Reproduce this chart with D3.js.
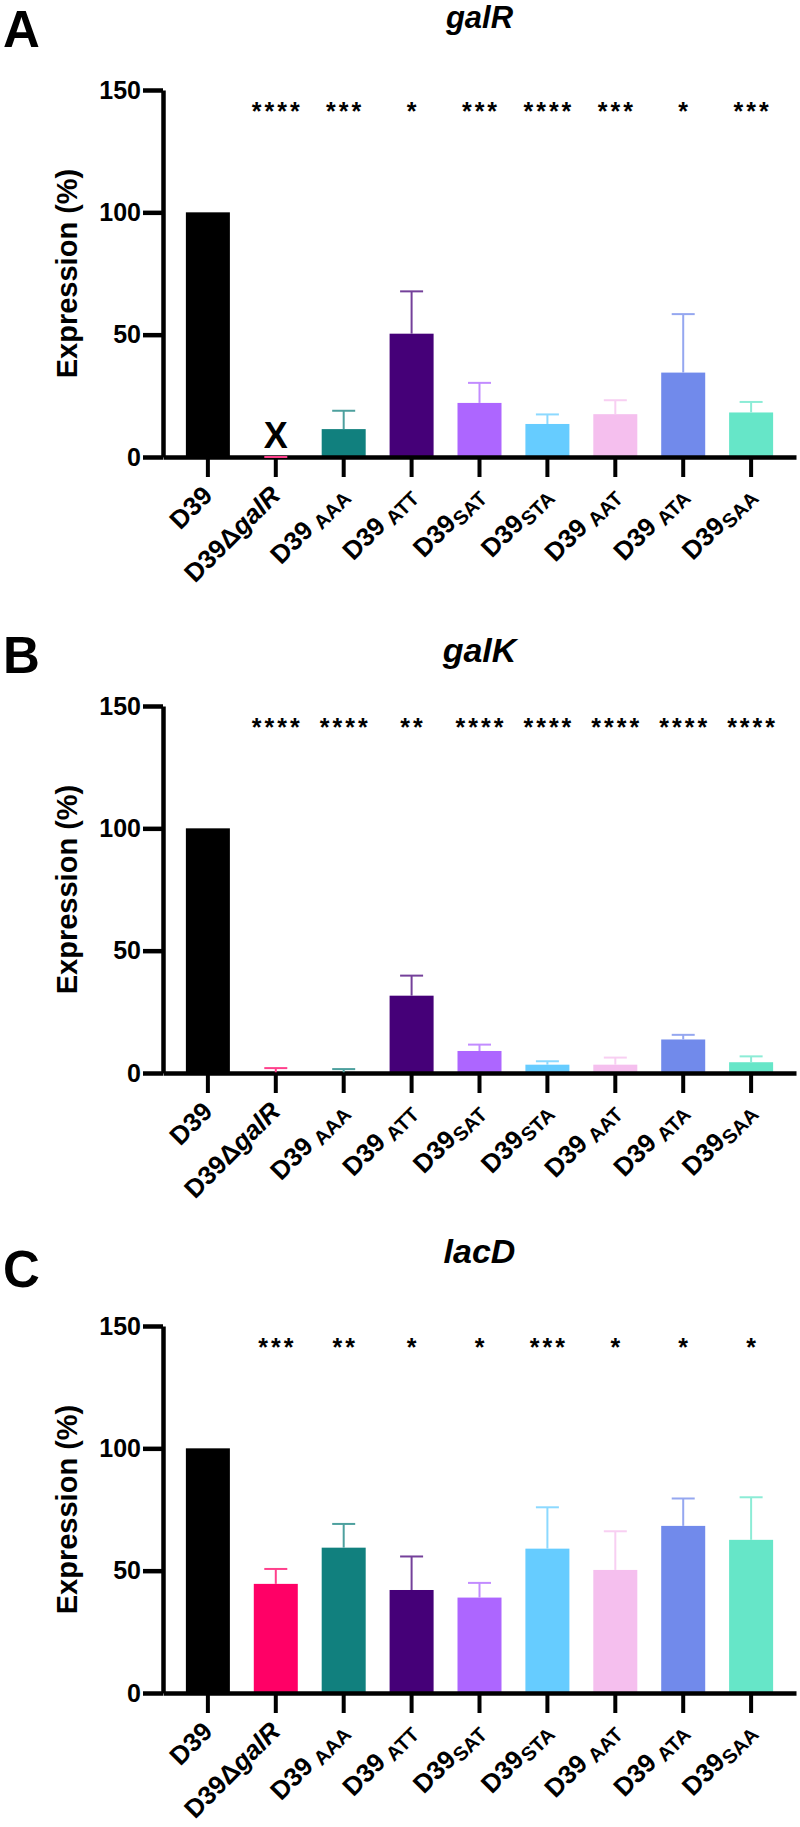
<!DOCTYPE html>
<html><head><meta charset="utf-8">
<script src="https://cdn.jsdelivr.net/npm/d3@7"></script>
<style>body{margin:0;background:#fff} svg{display:block}</style>
</head><body><svg id="c" width="800" height="1827"></svg>
<script>
// ---- data ----
const categories = ["D39","D39ΔgalR","D39AAA","D39ATT","D39SAT","D39STA","D39AAT","D39ATA","D39SAA"];
const labelBase   = ["D39","D39Δ","D39","D39","D39","D39","D39","D39","D39"];
const labelItalic = ["","galR","","","","","","",""];
const labelSub    = ["","","AAA","ATT","SAT","STA","AAT","ATA","SAA"];
const subSpace    = [false,false,true,true,false,false,true,true,false];
const colors = ["#000000","#ff0066","#11807e","#450078","#ad66ff","#66ccff","#f5bfee","#718aeb","#66e6c8"];
const yTicks = [0,50,100,150];

const galR_mean = [100, 0, 11.4, 50.4, 22.1, 13.5, 17.5, 34.5, 18.2];
const galR_err  = [0, 0, 7.5, 17.3, 8.2, 3.9, 5.7, 23.9, 4.3];
const galR_sig  = ["", "****", "***", "*", "***", "****", "***", "*", "***"];
const galR_note = ["", "X", "", "", "", "", "", "", ""];

const galK_mean = [100, 0.3, 0.3, 31.6, 9.0, 3.4, 3.4, 13.7, 4.4];
const galK_err  = [0, 1.7, 1.3, 8.2, 2.6, 1.4, 2.9, 1.9, 2.4];
const galK_sig  = ["", "****", "****", "**", "****", "****", "****", "****", "****"];
const galK_note = ["", "", "", "", "", "", "", "", ""];

const lacD_mean = [100, 44.6, 59.4, 42.1, 39.0, 59.0, 50.3, 68.3, 62.6];
const lacD_err  = [0, 6.1, 9.7, 13.7, 6.0, 16.9, 15.8, 11.2, 17.4];
const lacD_sig  = ["", "***", "**", "*", "*", "***", "*", "*", "*"];
const lacD_note = ["", "", "", "", "", "", "", "", ""];

const panels = [
  {letter:"A", gene:"galR", mean:galR_mean, err:galR_err, sig:galR_sig, note:galR_note},
  {letter:"B", gene:"galK", mean:galK_mean, err:galK_err, sig:galK_sig, note:galK_note},
  {letter:"C", gene:"lacD", mean:lacD_mean, err:lacD_err, sig:lacD_sig, note:lacD_note}
];

// ---- layout ----
const layout = [
  {y0:457,  letterY:47,   titleY:28,   titleSize:31},
  {y0:1073, letterY:673,  titleY:662,  titleSize:34},
  {y0:1693, letterY:1287, titleY:1263, titleSize:34}
];
const plotH = 367, xL = 163, xR = 796;
const FONT = "'Liberation Sans', Arial, sans-serif";

const svg = d3.select("#c");
const x = d3.scaleBand().domain(categories).range([xL, xR]).paddingInner(0.352).paddingOuter(0.337);
const bw = x.bandwidth();
const light = c => d3.interpolateRgb(c, "#ffffff")(0.25);

panels.forEach((p, pi) => {
  const L = layout[pi];
  const y = d3.scaleLinear().domain([0,150]).range([L.y0, L.y0 - plotH]);
  const g = svg.append("g");

  // panel letter
  g.append("text").attr("x", 3).attr("y", L.letterY)
    .attr("font-family", FONT).attr("font-weight", 700)
    .attr("font-size", 51).text(p.letter);
  // title
  g.append("text").attr("x", (xL + xR)/2).attr("y", L.titleY)
    .attr("text-anchor", "middle").attr("font-family", FONT)
    .attr("font-weight", 700).attr("font-style", "italic").attr("font-size", L.titleSize)
    .text(p.gene);

  // bars
  g.selectAll("rect.bar").data(categories).join("rect").attr("class","bar")
    .attr("x", d => x(d)).attr("width", bw)
    .attr("y", (d,i) => y(p.mean[i]))
    .attr("height", (d,i) => L.y0 - y(p.mean[i]))
    .attr("fill", (d,i) => colors[i]);

  // y axis
  const ya = g.append("g").attr("transform", `translate(${xL},0)`)
    .call(d3.axisLeft(y).tickValues(yTicks).tickSize(20).tickSizeOuter(0).tickPadding(2));
  ya.select(".domain").attr("stroke-width", 4.5);
  ya.selectAll(".tick line").attr("stroke-width", 4.5);
  ya.selectAll(".tick text").attr("font-family", FONT).attr("font-weight", 700)
    .attr("font-size", 25).attr("fill", "#000");

  // x axis
  const xa = g.append("g").attr("transform", `translate(0,${L.y0})`)
    .call(d3.axisBottom(x).tickSize(20).tickSizeOuter(0).tickFormat(""));
  xa.select(".domain").attr("stroke-width", 4.5);
  xa.selectAll(".tick line").attr("stroke-width", 4);

  // y title
  g.append("text").attr("transform", `translate(77,${L.y0 - plotH/2}) rotate(-90)`)
    .attr("text-anchor", "middle").attr("font-family", FONT).attr("font-weight", 700)
    .attr("font-size", 29).text("Expression (%)");

  // error bars
  categories.forEach((c, i) => {
    if (i === 0) return;
    const cx = x(c) + bw/2, top = y(p.mean[i] + p.err[i]);
    const col = light(colors[i]);
    if (p.err[i] > 0)
      g.append("line").attr("x1", cx).attr("x2", cx).attr("y1", y(p.mean[i])).attr("y2", top)
        .attr("stroke", col).attr("stroke-width", 2);
    g.append("line").attr("x1", cx - 11.5).attr("x2", cx + 11.5).attr("y1", top).attr("y2", top)
      .attr("stroke", col).attr("stroke-width", 2);
  });

  // significance stars
  const ls = 3;
  g.selectAll("text.sig").data(categories).join("text").attr("class","sig")
    .attr("x", d => x(d) + bw/2 + ls/2).attr("y", y(143) + 13)
    .attr("text-anchor", "middle").attr("font-family", FONT).attr("font-weight", 700)
    .attr("font-size", 25).attr("letter-spacing", ls)
    .text((d,i) => p.sig[i]);

  // notes (X)
  g.selectAll("text.note").data(categories).join("text").attr("class","note")
    .attr("x", d => x(d) + bw/2).attr("y", L.y0 - 9)
    .attr("text-anchor", "middle").attr("font-family", FONT).attr("font-weight", 700)
    .attr("font-size", 36).text((d,i) => p.note[i]);

  // category labels
  categories.forEach((c, i) => {
    const t = g.append("text")
      .attr("transform", `translate(${x(c) + bw/2 + 6},${L.y0 + 40}) rotate(-45)`)
      .attr("text-anchor", "end").attr("font-family", FONT).attr("font-weight", 700)
      .attr("font-size", 26);
    t.append("tspan").text(labelBase[i]);
    if (labelItalic[i]) t.append("tspan").attr("font-style", "italic").text(labelItalic[i]);
    if (labelSub[i]) t.append("tspan").attr("font-size", 20).attr("dy", 4)
      .attr("dx", subSpace[i] ? 6 : 1).text(labelSub[i]);
  });
});
</script></body></html>
